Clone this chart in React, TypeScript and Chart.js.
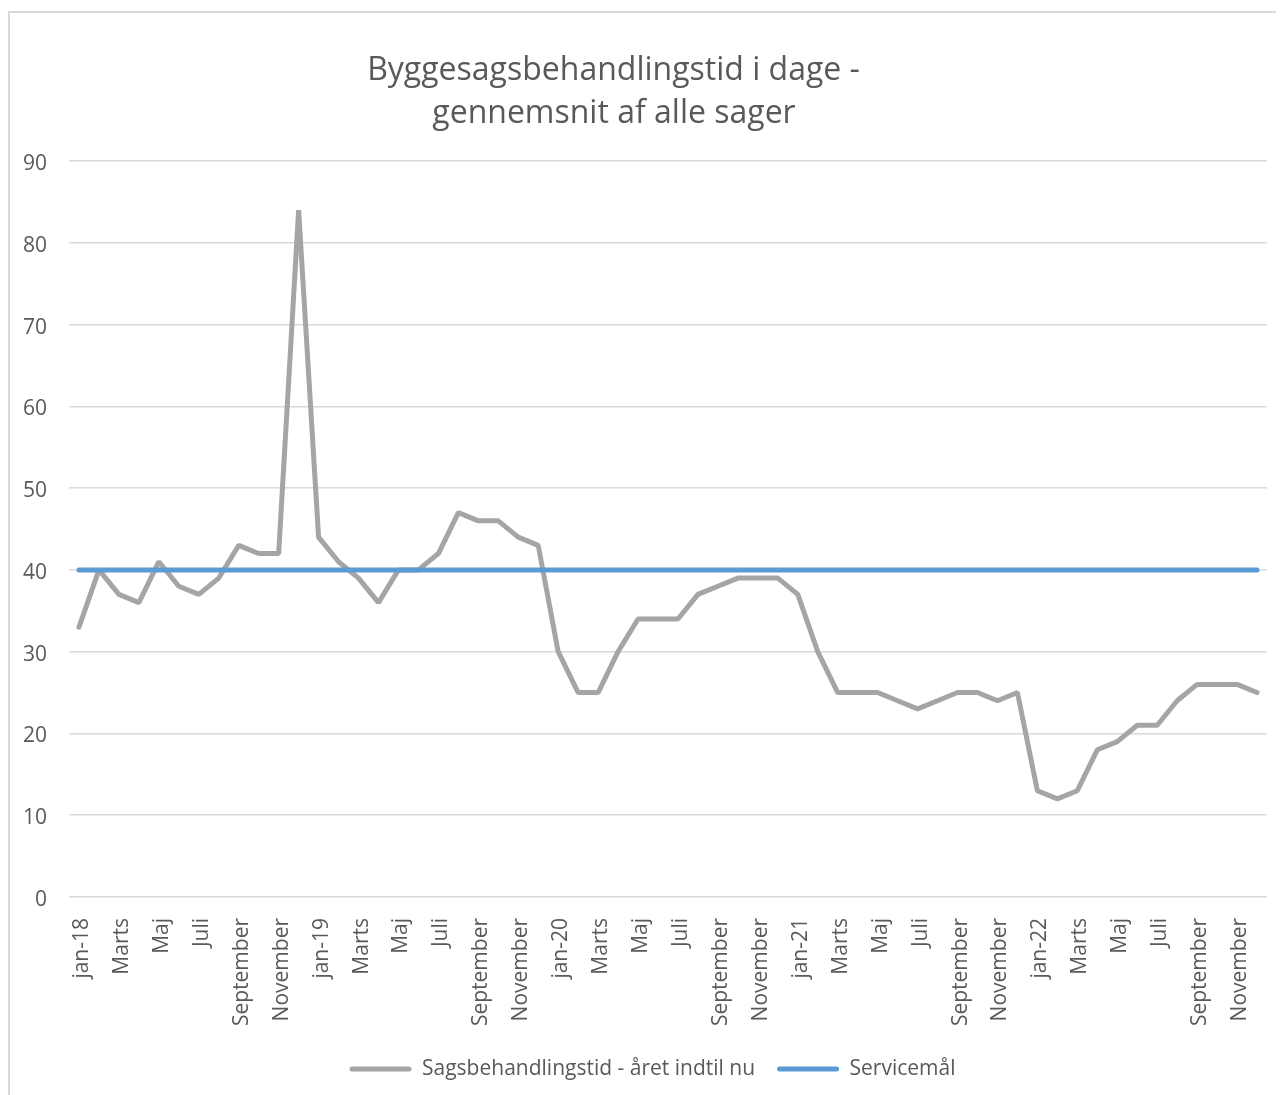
import React, { useEffect, useRef } from "react";
import { Chart, registerables } from "chart.js";

Chart.register(...registerables);

const titleLines = ["Byggesagsbehandlingstid i dage -", "gennemsnit af alle sager"];

const months = [
  "jan-18", "Februar", "Marts", "April", "Maj", "Juni", "Juli", "August", "September", "Oktober", "November", "December",
  "jan-19", "Februar", "Marts", "April", "Maj", "Juni", "Juli", "August", "September", "Oktober", "November", "December",
  "jan-20", "Februar", "Marts", "April", "Maj", "Juni", "Juli", "August", "September", "Oktober", "November", "December",
  "jan-21", "Februar", "Marts", "April", "Maj", "Juni", "Juli", "August", "September", "Oktober", "November", "December",
  "jan-22", "Februar", "Marts", "April", "Maj", "Juni", "Juli", "August", "September", "Oktober", "November", "December",
];

const sagsbehandlingstid = [
  33, 40, 37, 36, 41, 38, 37, 39, 43, 42, 42, 84,
  44, 41, 39, 36, 40, 40, 42, 47, 46, 46, 44, 43,
  30, 25, 25, 30, 34, 34, 34, 37, 38, 39, 39, 39,
  37, 30, 25, 25, 25, 24, 23, 24, 25, 25, 24, 25,
  13, 12, 13, 18, 19, 21, 21, 24, 26, 26, 26, 25,
];

const servicemaal = [
  40, 40, 40, 40, 40, 40, 40, 40, 40, 40, 40, 40,
  40, 40, 40, 40, 40, 40, 40, 40, 40, 40, 40, 40,
  40, 40, 40, 40, 40, 40, 40, 40, 40, 40, 40, 40,
  40, 40, 40, 40, 40, 40, 40, 40, 40, 40, 40, 40,
  40, 40, 40, 40, 40, 40, 40, 40, 40, 40, 40, 40,
];

const seriesNames = ["Sagsbehandlingstid - året indtil nu", "Servicemål"];
const yTicks = { min: 0, max: 90, step: 10 };

const FONT = '"Open Sans", "DejaVu Sans", sans-serif';
const TEXT = "#595959";
const GRAY = "#A5A5A5";
const BLUE = "#5B9BD5";
const GRID = "#D9D9D9";

const W = 1276;
const H = 1087;

const titlePlugin = {
  id: "customTitle",
  afterDraw(chart: any) {
    const ctx = chart.ctx;
    ctx.save();
    ctx.font = `32px ${FONT}`;
    ctx.fillStyle = TEXT;
    ctx.textAlign = "center";
    ctx.textBaseline = "alphabetic";
    ctx.fillText(titleLines[0], 605.5, 72);
    ctx.fillText(titleLines[1], 606, 115);
    ctx.restore();
  },
};

export default function App() {
  const ref = useRef<HTMLCanvasElement | null>(null);

  useEffect(() => {
    document.documentElement.style.overflow = "hidden";
    document.body.style.overflow = "hidden";
    const canvas = ref.current;
    if (!canvas) return;
    const chart = new Chart(canvas, {
      type: "line",
      data: {
        labels: months,
        datasets: [
          {
            label: seriesNames[0],
            data: sagsbehandlingstid,
            borderColor: GRAY,
            backgroundColor: GRAY,
            borderWidth: 5,
            pointRadius: 0,
            tension: 0,
            fill: false,
            borderCapStyle: "round",
            borderJoinStyle: "bevel",
            order: 1,
          },
          {
            label: seriesNames[1],
            data: servicemaal,
            borderColor: BLUE,
            backgroundColor: BLUE,
            borderWidth: 5,
            pointRadius: 0,
            tension: 0,
            fill: false,
            borderCapStyle: "round",
            borderJoinStyle: "round",
            order: 0,
          },
        ],
      },
      options: {
        responsive: false,
        animation: false,
        devicePixelRatio: 1,
        layout: { padding: { top: 153, left: 13, right: 0, bottom: 5.5 } },
        scales: {
          x: {
            type: "category",
            offset: true,
            grid: { display: false, drawTicks: false },
            border: { display: false },
            afterFit: (scale: any) => {
              scale.height = 139.5;
            },
            ticks: {
              autoSkip: false,
              minRotation: 90,
              maxRotation: 90,
              padding: 21,
              labelOffset: 3,
              color: TEXT,
              font: { family: FONT, size: 21 },
              callback: (_v: any, i: number) => (i % 2 === 0 ? months[i] : null),
            },
          },
          y: {
            min: yTicks.min,
            max: yTicks.max,
            grid: { color: GRID, lineWidth: 1.5, drawTicks: false },
            border: { display: false },
            afterFit: (scale: any) => {
              scale.width = 48;
            },
            ticks: {
              stepSize: yTicks.step,
              padding: 22,
              labelOffset: 3,
              color: TEXT,
              font: { family: FONT, size: 21 },
            },
          },
          yRight: {
            type: "linear",
            position: "right",
            display: true,
            grid: { display: false, drawTicks: false },
            border: { display: false },
            ticks: { display: false },
            afterFit: (scale: any) => {
              scale.width = 17;
            },
          },
        },
        plugins: {
          title: { display: false },
          tooltip: { enabled: false },
          legend: {
            display: true,
            position: "bottom",
            labels: {
              boxWidth: 62,
              boxHeight: 5,
              padding: 22,
              color: TEXT,
              font: { family: FONT, size: 21 },
              useBorderRadius: true,
              borderRadius: 2.5,
              sort: (a: any, b: any) => a.datasetIndex - b.datasetIndex,
              generateLabels: (c: any) =>
                Chart.defaults.plugins.legend.labels
                  .generateLabels(c)
                  .map((l: any) => ({ ...l, lineWidth: 0 })),
            },
          },
        },
      },
      plugins: [titlePlugin],
    });
    return () => chart.destroy();
  }, []);

  return (
    <div style={{ position: "relative", width: W, height: H, overflow: "hidden" }}>
      <div
        style={{
          position: "absolute",
          left: 0,
          top: 3,
          width: 1600,
          height: 1600,
          borderLeft: "2px solid #D9D9D9",
          borderTop: "2px solid #D9D9D9",
        }}
      />
      <canvas
        ref={ref}
        width={W}
        height={H}
        style={{ position: "absolute", left: 0, top: 0, width: W, height: H }}
      />
    </div>
  );
}
